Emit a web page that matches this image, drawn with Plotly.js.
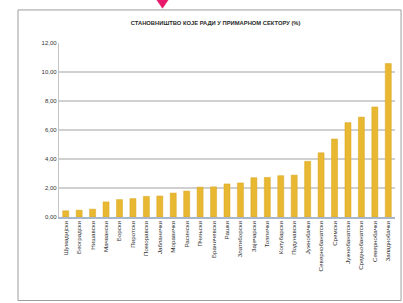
<!DOCTYPE html>
<html>
<head>
<meta charset="utf-8">
<script src="https://cdn.plot.ly/plotly-3.0.1.min.js"></script>
<style>html,body{margin:0;padding:0;background:#fff;}#chart{width:403px;height:303px;}</style>
</head>
<body>
<div id="chart"></div>
<script>
var districts = ["Шумадијски","Београдски","Нишавски","Мачвански","Борски","Пиротски","Поморавски","Јабланички","Моравички","Расински","Пчињски","Браничевски","Рашки","Златиборски","Зајечарски","Топлички","Колубарски","Подунавски","Јужнобачки","Севернобанатски","Сремски","Јужнобанатски","Средњобанатски","Севернобачки","Западнобачки"];
var shares = [0.43,0.47,0.54,1.04,1.20,1.27,1.42,1.45,1.65,1.79,2.06,2.08,2.28,2.35,2.71,2.73,2.85,2.89,3.84,4.43,5.38,6.51,6.89,7.59,10.58];
var yTicks = [0,2,4,6,8,10,12];

var trace = {
  type: 'bar', x: districts, y: shares,
  marker: {color: '#E8B832', line: {color: '#D9A71E', width: 0.5}},
  hoverinfo: 'none'
};
var layout = {
  width: 403, height: 303,
  margin: {l: 59, r: 8, t: 43, b: 86},
  paper_bgcolor: '#ffffff', plot_bgcolor: '#ffffff',
  separators: ',.',
  bargap: 0.55,
  showlegend: false,
  title: {text: '<b>СТАНОВНИШТВО КОЈЕ РАДИ У ПРИМАРНОМ СЕКТОРУ (%)</b>',
          font: {family: 'Liberation Sans, Arial', size: 5.8, color: '#2a2a2a'},
          x: 0.535, xanchor: 'center', y: 0.925, yanchor: 'middle'},
  xaxis: {
    type: 'category', tickangle: -90,
    tickfont: {family: 'Liberation Sans, Arial', size: 6.2, color: '#333'},
    showline: true, linecolor: '#A9B6CC', linewidth: 1.5,
    showgrid: false, ticks: '', automargin: false
  },
  yaxis: {
    range: [0, 12], tickvals: yTicks, tickformat: '.2f',
    tickfont: {family: 'Liberation Sans, Arial', size: 6, color: '#333'},
    showgrid: true, gridcolor: '#D0D0D0', gridwidth: 1.2,
    showline: true, linecolor: '#C4C4C4', linewidth: 1.2,
    zeroline: false, ticks: '', ticklen: 0, automargin: false
  },
  shapes: [
    {type: 'rect', xref: 'paper', yref: 'paper', x0: -0.122, x1: 1.018, y0: -0.48, y1: 1.19,
     line: {color: '#9E9E9E', width: 1}, layer: 'above'},
    {type: 'path', xref: 'paper', yref: 'paper', path: 'M 0.290 1.25 L 0.326 1.25 L 0.308 1.20 Z',
     fillcolor: '#E8186A', line: {color: '#E8186A', width: 0.5}}
  ]
};
Plotly.newPlot('chart', [trace], layout, {displayModeBar: false, staticPlot: true});
</script>
</body>
</html>
